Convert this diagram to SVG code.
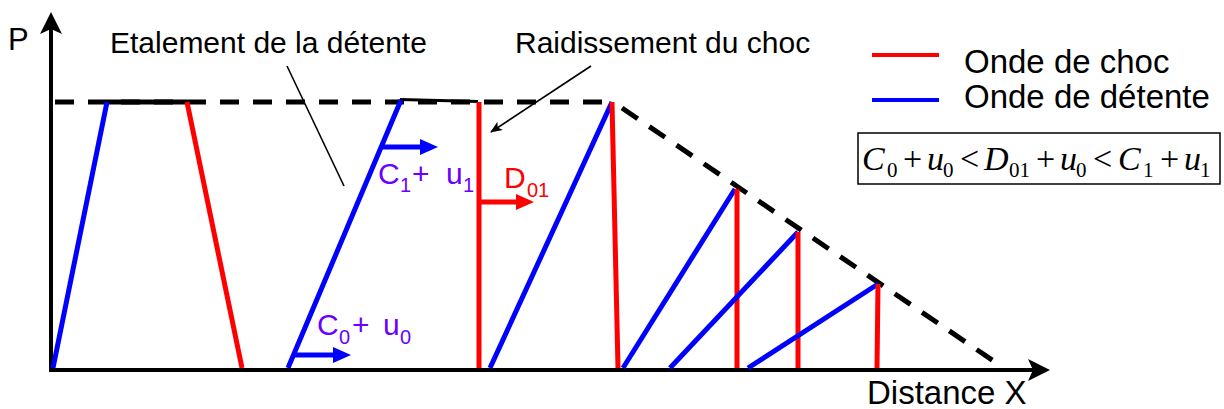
<svg xmlns="http://www.w3.org/2000/svg" width="1224" height="409" viewBox="0 0 1224 409">
<style>
.sans{font-family:"Liberation Sans",Arial,sans-serif;fill:#000}
.serif{font-family:"Liberation Serif","Times New Roman",serif;fill:#000}
.it{font-style:italic}
.m{font-size:34px}
.s{font-size:21px}
.lbl{font-family:"Liberation Sans",Arial,sans-serif;fill:#6a00ff;font-size:30px}
.lsub{font-family:"Liberation Sans",Arial,sans-serif;fill:#6a00ff;font-size:20px}
.redt{fill:#ff0000}
.red{stroke:#ff0000;stroke-width:5;fill:none}
.blue{stroke:#0000ff;stroke-width:5;fill:none}
.dash{stroke:#000;stroke-width:5;stroke-dasharray:19 14;fill:none}
.axis{stroke:#000;stroke-width:4;fill:none}
.thin{stroke:#000;stroke-width:1.6;fill:none}
</style>
<defs>
<marker id="ah" viewBox="0 0 12 10" refX="11" refY="5" markerWidth="12" markerHeight="10" markerUnits="userSpaceOnUse" orient="auto">
<path d="M0,0 L12,5 L0,10 L3,5 Z" fill="#000"/>
</marker>
</defs>
<rect width="1224" height="409" fill="#fff"/>

<g id="axes">
<line class="axis" x1="51" y1="372" x2="51" y2="22"/>
<path d="M51,12 L62,34 L51,29 L40,34 Z" fill="#000"/>
<line class="axis" x1="49" y1="370" x2="1040" y2="370"/>
<path d="M1050,370 L1028,359 L1033,370 L1028,381 Z" fill="#000"/>
<text class="sans" x="8" y="50" font-size="31">P</text>
<text class="sans" x="867" y="404" font-size="33">Distance X</text>
</g>

<g id="envelope">
<line class="dash" x1="55" y1="102" x2="612" y2="102"/>
<line class="dash" x1="622" y1="108" x2="995" y2="362"/>
<line stroke="#000" stroke-width="5" x1="107" y1="102" x2="187" y2="102"/>
<line stroke="#000" stroke-width="3" x1="400" y1="99.5" x2="478" y2="101.5"/>
</g>

<g id="waves">
<line class="blue" x1="53" y1="368" x2="107" y2="102"/>
<line class="red" x1="187" y1="102" x2="242" y2="368"/>
<line class="blue" x1="288" y1="368" x2="401" y2="100"/>
<line class="red" x1="479" y1="102" x2="479" y2="368"/>
<line class="blue" x1="490" y1="368" x2="612" y2="102"/>
<line class="red" x1="612" y1="102" x2="618" y2="368"/>
<line class="blue" x1="623" y1="368" x2="735" y2="189"/>
<line class="red" x1="737" y1="189" x2="737" y2="368"/>
<line class="blue" x1="670" y1="368" x2="798" y2="232"/>
<line class="red" x1="798" y1="232" x2="798" y2="368"/>
<line class="blue" x1="748" y1="368" x2="878" y2="284"/>
<line class="red" x1="878" y1="284" x2="877" y2="368"/>
</g>

<g id="velocity-arrows">
<line stroke="#0000ff" stroke-width="5" x1="381" y1="147" x2="424" y2="147"/>
<path d="M438,147 L420,139 L420,155 Z" fill="#0000ff"/>
<line stroke="#ff0000" stroke-width="5" x1="479" y1="202" x2="520" y2="202"/>
<path d="M534,202 L516,194 L516,210 Z" fill="#ff0000"/>
<line stroke="#0000ff" stroke-width="5" x1="295" y1="355" x2="338" y2="355"/>
<path d="M351,355 L333,347 L333,363 Z" fill="#0000ff"/>
</g>

<g id="labels">
<text class="lbl" x="378" y="184">C</text>
<text class="lsub" x="400" y="192">1</text>
<text class="lbl" x="412" y="184">+</text>
<text class="lbl" x="446" y="184">u</text>
<text class="lsub" x="463" y="192">1</text>
<text class="lbl redt" x="504" y="188">D</text>
<text class="lsub redt" x="527" y="197">01</text>
<text class="lbl" x="317" y="335">C</text>
<text class="lsub" x="339" y="344">0</text>
<text class="lbl" x="352" y="335">+</text>
<text class="lbl" x="383" y="335">u</text>
<text class="lsub" x="400" y="344">0</text>
</g>

<g id="annotations">
<text class="sans" x="110" y="53" font-size="30">Etalement de la détente</text>
<line class="thin" x1="287" y1="66" x2="344" y2="186"/>
<text class="sans" x="515" y="53" font-size="30">Raidissement du choc</text>
<line class="thin" x1="591" y1="66" x2="491" y2="132" marker-end="url(#ah)"/>
</g>

<g id="legend">
<line stroke="#ff0000" stroke-width="4" x1="872" y1="55" x2="939" y2="55"/>
<text class="sans" x="964" y="73" font-size="33">Onde de choc</text>
<line stroke="#0000ff" stroke-width="4" x1="872" y1="100" x2="939" y2="100"/>
<text class="sans" x="964" y="108" font-size="33">Onde de détente</text>
</g>

<g id="formula">
<rect x="858" y="133" width="362" height="51" fill="none" stroke="#000" stroke-width="1.5"/>
<text class="serif it m" x="862" y="170">C</text>
<text class="serif s" x="887" y="177">0</text>
<text class="serif m" x="903" y="170">+</text>
<text class="serif it m" x="927" y="170">u</text>
<text class="serif s" x="943" y="177">0</text>
<text class="serif m" x="960" y="170">&lt;</text>
<text class="serif it m" x="984" y="170">D</text>
<text class="serif s" x="1009" y="177">01</text>
<text class="serif m" x="1036" y="170">+</text>
<text class="serif it m" x="1060" y="170">u</text>
<text class="serif s" x="1076" y="177">0</text>
<text class="serif m" x="1093" y="170">&lt;</text>
<text class="serif it m" x="1118" y="170">C</text>
<text class="serif s" x="1143" y="177">1</text>
<text class="serif m" x="1160" y="170">+</text>
<text class="serif it m" x="1184" y="170">u</text>
<text class="serif s" x="1200" y="177">1</text>
</g>
</svg>
